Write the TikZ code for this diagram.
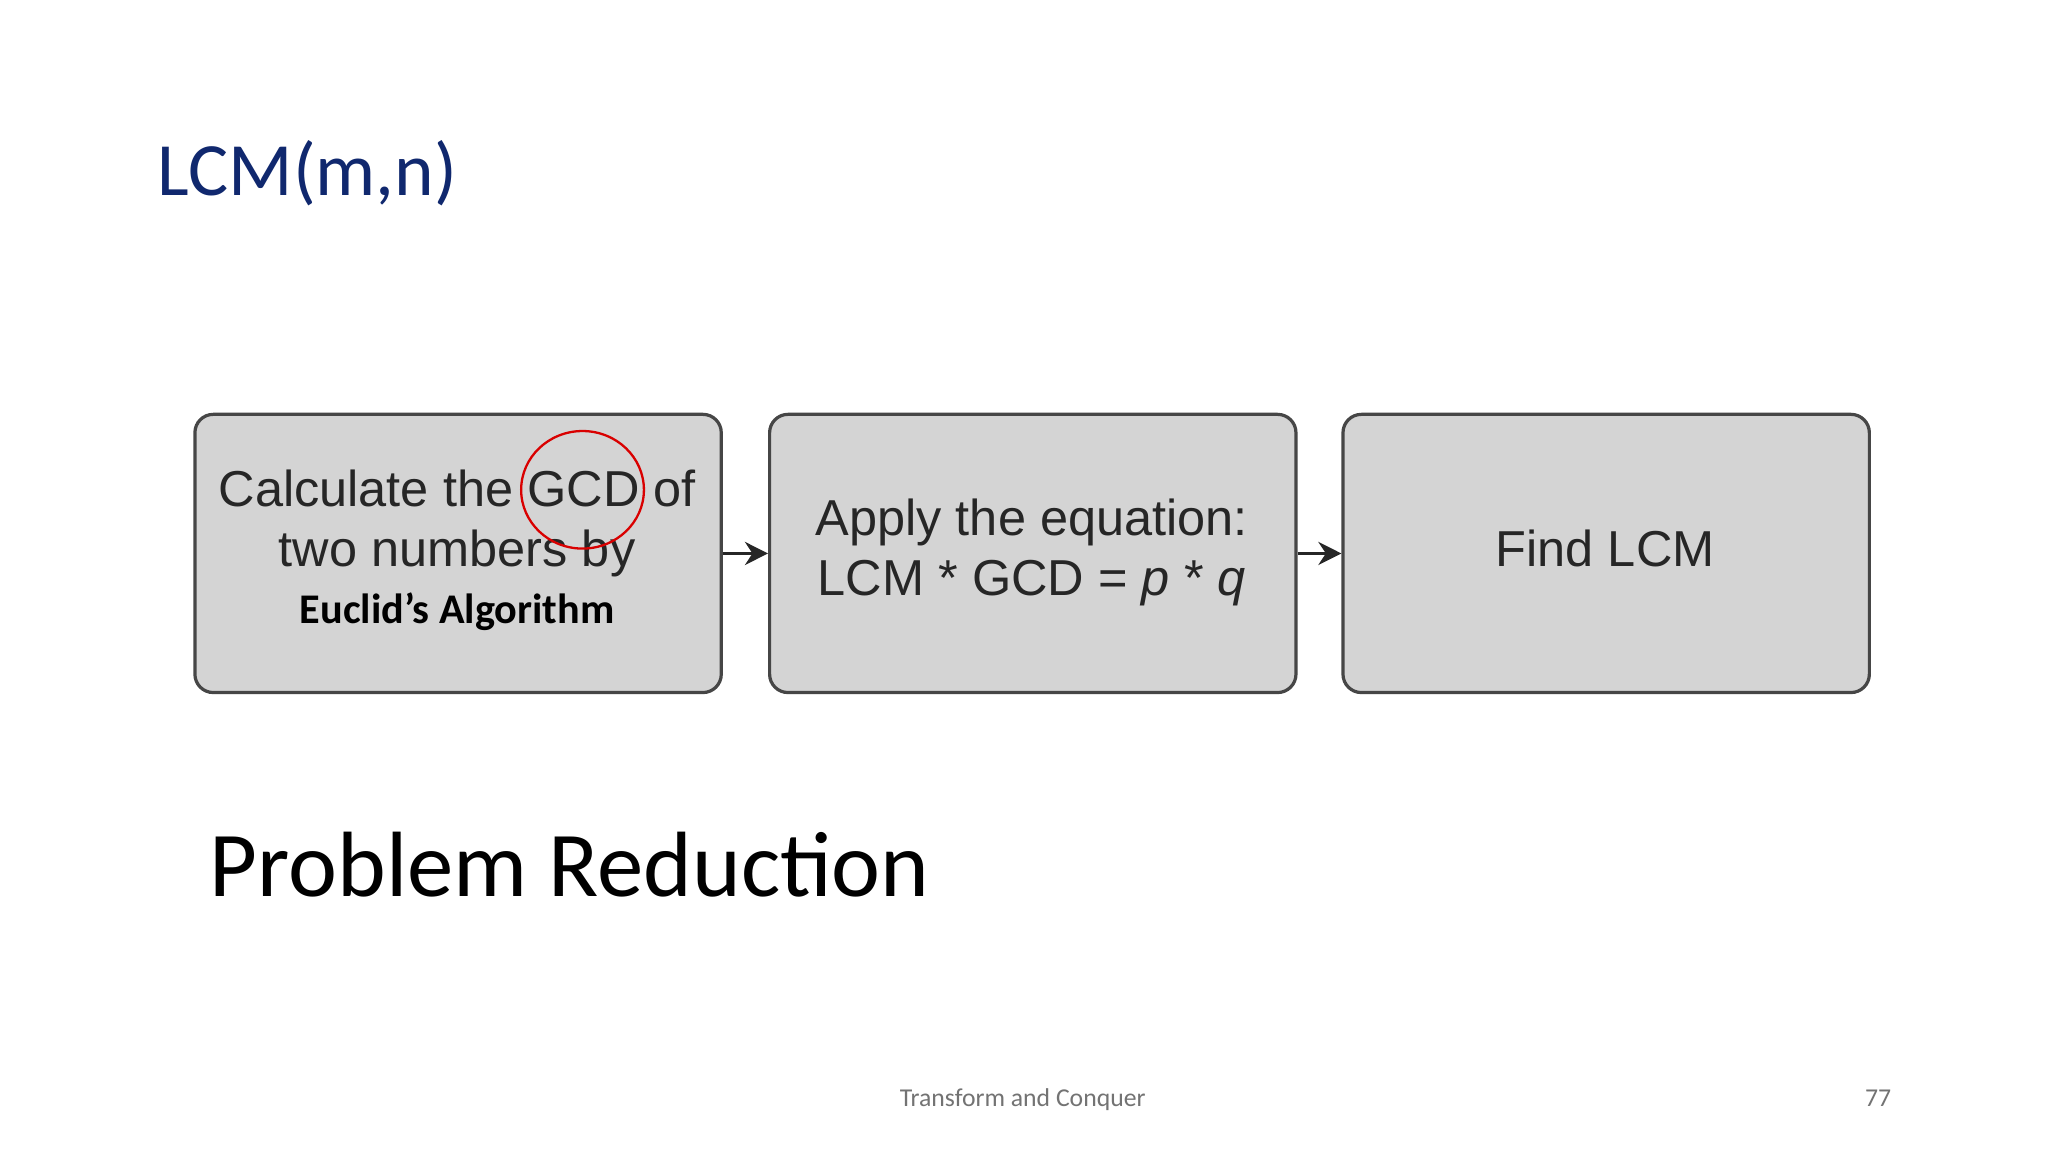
\documentclass[tikz,border=0pt]{standalone}
\usepackage{fontspec}
\setmainfont{Carlito}
\newfontfamily\arialf{Liberation Sans}
\usetikzlibrary{arrows.meta}
\definecolor{titleblue}{RGB}{16,40,110}
\definecolor{boxgray}{RGB}{212,212,212}
\definecolor{boxline}{RGB}{70,70,70}
\tikzset{
  stepbox/.style={draw=boxline, line width=0.7pt, fill=boxgray, rounded corners=4pt, minimum width=40.3mm, minimum height=21.3mm, anchor=north west, inner sep=0pt},
  boxtext/.style={font=\arialf\fontsize{11}{13}\selectfont, align=center, text=black!85},
  conn/.style={-{Stealth[length=5pt,width=5pt]}, line width=0.8pt, draw=black!85}
}
\begin{document}
\begin{tikzpicture}[x=0.1mm,y=-0.1mm]
\useasboundingbox[fill=white] (0,0) rectangle (1568,882);
\node[anchor=base west, text=titleblue, font=\fontsize{16.4}{20}\selectfont, inner sep=0pt] (title) at (120,150) {LCM(m,n)};
\node[stepbox] (b1) at (148,316) {};
\node[stepbox] (b2) at (588,316) {};
\node[stepbox] (b3) at (1027,316) {};
\node[boxtext, anchor=base] (t1a) at (350,388) {Calculate the GCD of};
\node[boxtext, anchor=base] (t1b) at (350,434) {two numbers by};
\node[anchor=base, font=\bfseries\fontsize{9.2}{11}\selectfont] (t1c) at (350,477) {Euclid’s Algorithm};
\node[boxtext, anchor=base] (t2a) at (790,410) {Apply the equation:};
\node[boxtext, anchor=base] (t2b) at (790,456) {LCM * GCD = \textit{p} * \textit{q}};
\node[boxtext, anchor=base] (t3) at (1229,434) {Find LCM};
\draw[red!85!black, line width=0.5pt] (446,375) ellipse [x radius=47, y radius=45];
\draw[conn] (b1.east) -- (b2.west);
\draw[conn] (b2.east) -- (b3.west);
\node[anchor=base west, inner sep=0pt, font=\fontsize{20.2}{24}\selectfont] (pr) at (160,686) {Problem Reduction};
\node[anchor=base, text=black!55, font=\fontsize{5.6}{7}\selectfont] (ft) at (783,847) {Transform and Conquer};
\node[anchor=base, text=black!55, font=\fontsize{5.6}{7}\selectfont] (pg) at (1438,847) {77};
\end{tikzpicture}
\end{document}
